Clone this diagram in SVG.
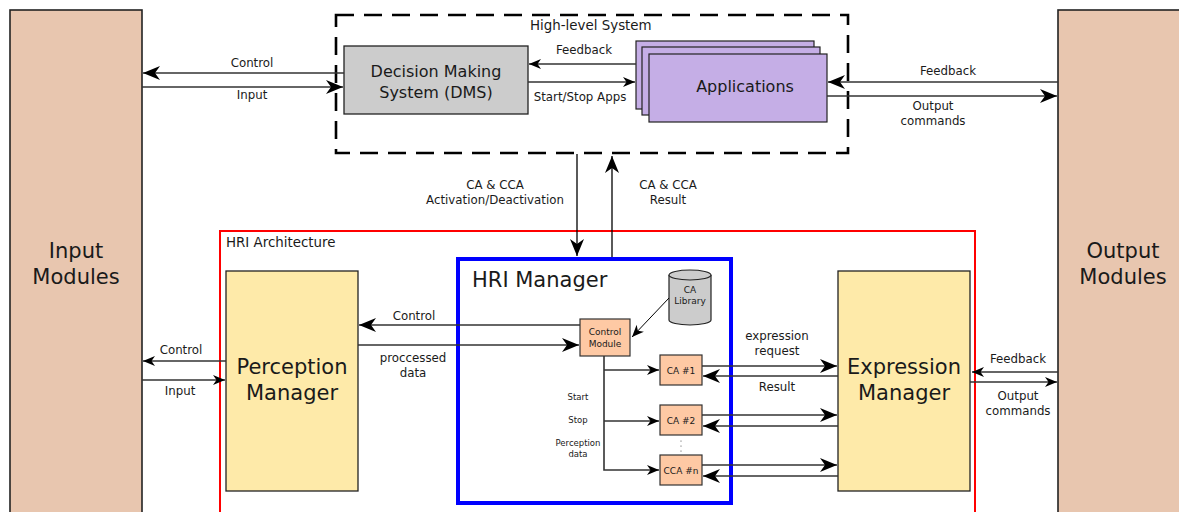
<svg xmlns="http://www.w3.org/2000/svg" width="1179" height="512" viewBox="0 0 1179 512">
<style>
text{font-family:"DejaVu Sans","Liberation Sans",sans-serif;fill:#1a1a1a}
.big{font-size:21px}
.mid{font-size:16px}
.lbl{font-size:11.8px}
.grp{font-size:13.4px}
.sm{font-size:9px}
.xs{font-size:8.5px}
.mod{fill:#e8c6af;stroke:#222;stroke-width:1.6}
.mgr{fill:#feeaa9;stroke:#222;stroke-width:1.3}
.ca{fill:#fec9a4;stroke:#333;stroke-width:1.2}
.ln{fill:none;stroke:#333;stroke-width:1.6}
.lnb{fill:none;stroke:#000;stroke-width:1.3}
</style>
<defs>
<marker id="ah" markerUnits="userSpaceOnUse" orient="auto" overflow="visible" markerWidth="1" markerHeight="1" refX="0" refY="0">
<path d="M0,0 L-17,-7 L-12,0 L-17,7 Z" fill="#000"/>
</marker>
<marker id="as" markerUnits="userSpaceOnUse" orient="auto" overflow="visible" markerWidth="1" markerHeight="1" refX="0" refY="0">
<path d="M0,0 L-12,-5 L-8.5,0 L-12,5 Z" fill="#000"/>
</marker>
</defs>

<g id="input-modules">
<rect class="mod" x="10" y="10" width="132" height="510"/>
<text class="big" x="76" y="258" text-anchor="middle">Input</text>
<text class="big" x="76" y="284" text-anchor="middle">Modules</text>
</g>

<g id="output-modules">
<rect class="mod" x="1058" y="10" width="130" height="510"/>
<text class="big" x="1123" y="258" text-anchor="middle">Output</text>
<text class="big" x="1123" y="284" text-anchor="middle">Modules</text>
</g>

<g id="high-level-system">
<rect x="336" y="15" width="512" height="138" fill="none" stroke="#000" stroke-width="2.6" stroke-dasharray="18,10"/>
<text class="grp" x="530" y="30">High-level System</text>
</g>

<g id="dms">
<rect x="344" y="46" width="184" height="68" fill="#cccccc" stroke="#222" stroke-width="1.3"/>
<text class="mid" x="436" y="77" text-anchor="middle">Decision Making</text>
<text class="mid" x="436" y="98" text-anchor="middle">System (DMS)</text>
</g>

<g id="applications">
<rect x="636" y="41" width="178" height="68" fill="#c5aee6" stroke="#222" stroke-width="1.2"/>
<rect x="642" y="47" width="178" height="68" fill="#c5aee6" stroke="#222" stroke-width="1.2"/>
<rect x="649" y="54" width="178" height="68" fill="#c5aee6" stroke="#222" stroke-width="1.2"/>
<text class="mid" x="745" y="92" text-anchor="middle">Applications</text>
</g>

<g id="hri-architecture">
<rect x="220" y="231" width="755" height="285" fill="none" stroke="#ff0000" stroke-width="2"/>
<text class="grp" x="226" y="247">HRI Architecture</text>
</g>

<g id="perception-manager">
<rect class="mgr" x="226" y="271" width="132" height="220"/>
<text class="big" x="292" y="374" text-anchor="middle">Perception</text>
<text class="big" x="292" y="400" text-anchor="middle">Manager</text>
</g>

<g id="hri-manager">
<rect x="458" y="259" width="273" height="244" fill="none" stroke="#0000ff" stroke-width="4"/>
<text class="big" x="472" y="287">HRI Manager</text>
</g>

<g id="expression-manager">
<rect class="mgr" x="838" y="271" width="132" height="220"/>
<text class="big" x="904" y="374" text-anchor="middle">Expression</text>
<text class="big" x="904" y="400" text-anchor="middle">Manager</text>
</g>

<g id="control-module">
<rect class="ca" x="580" y="319" width="50" height="37"/>
<text class="sm" x="605" y="335" text-anchor="middle">Control</text>
<text class="sm" x="605" y="347" text-anchor="middle">Module</text>
</g>

<g id="ca-library">
<path d="M669,275 L669,320 A21,5 0 0 0 711,320 L711,275" fill="#cccccc" stroke="#222" stroke-width="1.2"/>
<ellipse cx="690" cy="275" rx="21" ry="5" fill="#cccccc" stroke="#222" stroke-width="1.2"/>
<text class="sm" x="690" y="293" text-anchor="middle">CA</text>
<text class="sm" x="690" y="304" text-anchor="middle">Library</text>
</g>

<g id="ca1">
<rect class="ca" x="660" y="355" width="42" height="30"/>
<text class="sm" x="681" y="374" text-anchor="middle">CA #1</text>
</g>
<g id="ca2">
<rect class="ca" x="660" y="405" width="42" height="30"/>
<text class="sm" x="681" y="424" text-anchor="middle">CA #2</text>
</g>
<g id="ccan">
<rect class="ca" x="660" y="455" width="42" height="30"/>
<text class="sm" x="681" y="474" text-anchor="middle">CCA #n</text>
</g>

<g id="connectors">
<line class="ln" x1="344" y1="73" x2="143" y2="73" marker-end="url(#ah)"/>
<line class="ln" x1="142" y1="87" x2="343" y2="87" marker-end="url(#ah)"/>
<text class="lbl" x="252" y="67" text-anchor="middle">Control</text>
<text class="lbl" x="252" y="99" text-anchor="middle">Input</text>
<line class="ln" x1="636" y1="64" x2="529" y2="64" marker-end="url(#as)"/>
<line class="ln" x1="528" y1="82" x2="635" y2="82" marker-end="url(#as)"/>
<text class="lbl" x="584" y="54" text-anchor="middle">Feedback</text>
<text class="lbl" x="580" y="101" text-anchor="middle">Start/Stop Apps</text>
<line class="ln" x1="1058" y1="82" x2="828" y2="82" marker-end="url(#ah)"/>
<line class="ln" x1="827" y1="96" x2="1057" y2="96" marker-end="url(#ah)"/>
<text class="lbl" x="948" y="75" text-anchor="middle">Feedback</text>
<text class="lbl" x="933" y="110" text-anchor="middle">Output</text>
<text class="lbl" x="933" y="125" text-anchor="middle">commands</text>
<line class="lnb" x1="577" y1="154" x2="577" y2="256" marker-end="url(#ah)"/>
<line class="lnb" x1="612" y1="257" x2="612" y2="156" marker-end="url(#ah)"/>
<text class="lbl" x="495" y="189" text-anchor="middle">CA &amp; CCA</text>
<text class="lbl" x="495" y="204" text-anchor="middle">Activation/Deactivation</text>
<text class="lbl" x="668" y="189" text-anchor="middle">CA &amp; CCA</text>
<text class="lbl" x="668" y="204" text-anchor="middle">Result</text>
<line class="ln" x1="580" y1="325" x2="359" y2="325" marker-end="url(#ah)"/>
<line class="ln" x1="358" y1="345" x2="579" y2="345" marker-end="url(#ah)"/>
<text class="lbl" x="414" y="320" text-anchor="middle">Control</text>
<text class="lbl" x="413" y="362" text-anchor="middle">proccessed</text>
<text class="lbl" x="413" y="377" text-anchor="middle">data</text>
<line x1="669" y1="298" x2="632" y2="337" stroke="#000" stroke-width="1" marker-end="url(#as)"/>
<line class="ln" x1="226" y1="361" x2="143" y2="361" marker-end="url(#as)"/>
<line class="ln" x1="142" y1="380" x2="225" y2="380" marker-end="url(#as)"/>
<text class="lbl" x="181" y="354" text-anchor="middle">Control</text>
<text class="lbl" x="180" y="395" text-anchor="middle">Input</text>
<polyline class="ln" points="604,356 604,470 659,470" marker-end="url(#as)"/>
<line class="ln" x1="604" y1="370" x2="659" y2="370" marker-end="url(#as)"/>
<line class="ln" x1="604" y1="421" x2="659" y2="421" marker-end="url(#as)"/>
<text class="xs" x="578" y="400" text-anchor="middle">Start</text>
<text class="xs" x="578" y="423" text-anchor="middle">Stop</text>
<text class="xs" x="578" y="446" text-anchor="middle">Perception</text>
<text class="xs" x="578" y="457" text-anchor="middle">data</text>
<circle cx="681" cy="441" r="0.6" fill="#444"/>
<circle cx="681" cy="446" r="0.6" fill="#444"/>
<circle cx="681" cy="451" r="0.6" fill="#444"/>
<line class="ln" x1="702" y1="366" x2="837" y2="366" marker-end="url(#ah)"/>
<line class="ln" x1="838" y1="376" x2="703" y2="376" marker-end="url(#ah)"/>
<line class="ln" x1="702" y1="415" x2="837" y2="415" marker-end="url(#ah)"/>
<line class="ln" x1="838" y1="426" x2="703" y2="426" marker-end="url(#ah)"/>
<line class="ln" x1="702" y1="465" x2="837" y2="465" marker-end="url(#ah)"/>
<line class="ln" x1="838" y1="476" x2="703" y2="476" marker-end="url(#ah)"/>
<text class="lbl" x="777" y="340" text-anchor="middle">expression</text>
<text class="lbl" x="777" y="355" text-anchor="middle">request</text>
<text class="lbl" x="777" y="391" text-anchor="middle">Result</text>
<line class="ln" x1="1058" y1="372" x2="972" y2="372" marker-end="url(#as)"/>
<line class="ln" x1="970" y1="382" x2="1057" y2="382" marker-end="url(#as)"/>
<text class="lbl" x="1018" y="363" text-anchor="middle">Feedback</text>
<text class="lbl" x="1018" y="400" text-anchor="middle">Output</text>
<text class="lbl" x="1018" y="415" text-anchor="middle">commands</text>
</g>
</svg>
